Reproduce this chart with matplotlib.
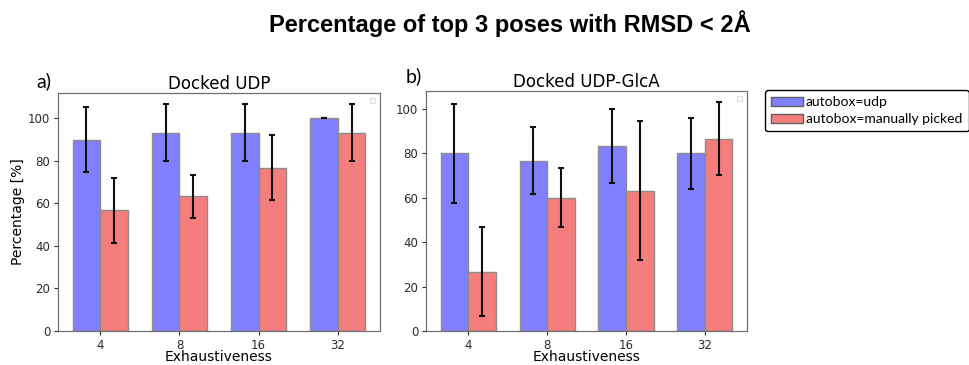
import numpy as np
import matplotlib.pyplot as plt
from matplotlib.patches import Patch

# Exhaustiveness settings and docking success rates (mean and spread over runs)
exhaustiveness = ["4", "8", "16", "32"]

udp_auto = [90.0, 93.3, 93.3, 100.0]
udp_auto_err = [15.3, 13.3, 13.3, 0.0]
udp_manual = [56.7, 63.3, 76.7, 93.3]
udp_manual_err = [15.3, 10.0, 15.3, 13.3]

glca_auto = [80.0, 76.7, 83.3, 80.0]
glca_auto_err = [22.1, 15.1, 16.7, 16.2]
glca_manual = [26.7, 60.0, 63.3, 86.7]
glca_manual_err = [20.0, 13.3, 31.5, 16.3]

blue = "#8080ff"
red = "#f47d7d"
width = 0.35

fig = plt.figure(figsize=(9.7, 3.65), dpi=100)
ax_a = fig.add_axes([0.0598, 0.0932, 0.332, 0.652])
ax_b = fig.add_axes([0.4392, 0.0932, 0.331, 0.6575])


def draw_panel(ax, auto, auto_err, manual, manual_err, title):
    x = np.arange(len(exhaustiveness))
    err_kw = dict(ecolor="#111111", elinewidth=1.5, capsize=2, capthick=1.5)
    ax.bar(x - width / 2, auto, width, yerr=auto_err, color=blue,
           edgecolor="#8c8c8c", linewidth=1.0, error_kw=err_kw)
    ax.bar(x + width / 2, manual, width, yerr=manual_err, color=red,
           edgecolor="#8c8c8c", linewidth=1.0, error_kw=err_kw)
    ax.set_xticks(x)
    ax.set_xticklabels(exhaustiveness)
    ax.set_title(title, fontsize=12, pad=3)
    ax.set_xlabel("Exhaustiveness", fontsize=10, labelpad=-1)
    ax.tick_params(labelsize=8.5, colors="#2a2a2a", length=3, pad=2.5)
    for sp in ax.spines.values():
        sp.set_color("#707070")
        sp.set_linewidth(0.9)
    # empty legend box left in the corner
    leg = ax.legend(handles=[], loc="upper right", borderpad=0.2,
                    borderaxespad=0.35, fancybox=False)
    leg.get_frame().set_edgecolor("#d8d8d8")


draw_panel(ax_a, udp_auto, udp_auto_err, udp_manual, udp_manual_err, "Docked UDP")
draw_panel(ax_b, glca_auto, glca_auto_err, glca_manual, glca_manual_err, "Docked UDP-GlcA")
ax_a.set_ylabel("Percentage [%]", fontsize=10, labelpad=2)

fig.text(0.526, 1 - 32 / 365, "Percentage of top 3 poses with RMSD < 2Å",
         family="Liberation Sans", fontweight="bold", fontsize=17,
         ha="center", va="baseline")
fig.text(36 / 970, 1 - 87 / 365, "a)", family="Lato", fontsize=14, va="baseline")
fig.text(406 / 970, 1 - 82 / 365, "b)", family="Lato", fontsize=14, va="baseline")

handles = [Patch(facecolor=blue, edgecolor="#606060", label="autobox=udp"),
           Patch(facecolor=red, edgecolor="#606060", label="autobox=manually picked")]
legend = fig.legend(handles=handles, loc="upper left",
                    bbox_to_anchor=(765 / 970, 1 - 90 / 365), borderaxespad=0,
                    prop={"family": "Lato", "size": 10},
                    handlelength=2.3, handleheight=0.65, handletextpad=0.2,
                    labelspacing=0.35, borderpad=0.45, fancybox=True,
                    framealpha=1)
legend.get_frame().set_edgecolor("black")
legend.get_frame().set_linewidth(1.0)

fig.savefig("out.png", dpi=100)
